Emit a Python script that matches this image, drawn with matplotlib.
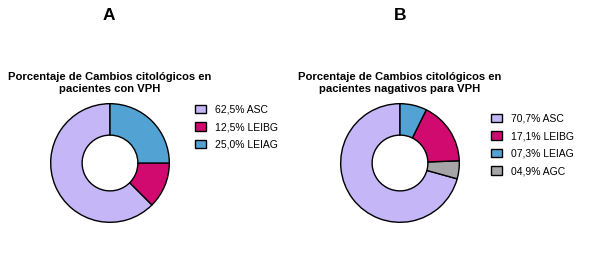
import matplotlib
matplotlib.use("Agg")
import matplotlib.pyplot as plt
from matplotlib.patches import Patch

plt.rcParams['font.family'] = ['Liberation Sans', 'DejaVu Sans']

# Data
cats_a = ["ASC", "LEIBG", "LEIAG"]
vals_a = [62.5, 12.5, 25.0]
labels_a = ["62,5% ASC", "12,5% LEIBG", "25,0% LEIAG"]

# wedge order of panel B (counter-clockwise from top)
cats_b_wedges = ["ASC", "AGC", "LEIBG", "LEIAG"]
vals_b_wedges = [70.7, 4.9, 17.1, 7.3]
# legend order of panel B
cats_b_legend = ["ASC", "LEIBG", "LEIAG", "AGC"]
labels_b = ["70,7% ASC", "17,1% LEIBG", "07,3% LEIAG", "04,9% AGC"]

title_a = "Porcentaje de Cambios citológicos en\npacientes con VPH"
title_b = "Porcentaje de Cambios citológicos en\npacientes nagativos para VPH"

colors = {"ASC": "#C5B6F8", "LEIBG": "#D10A70", "LEIAG": "#52A3D4", "AGC": "#A5A5A7"}

W, H = 591, 254
fig = plt.figure(figsize=(W / 100, H / 100), dpi=100)

def px_axes(cx, cy, r):
    return fig.add_axes([(cx - r) / W, 1 - (cy + r) / H, 2 * r / W, 2 * r / H])

def donut(cx, cy, cats, vals):
    ax = px_axes(cx, cy, 60.5)
    ax.pie(vals, colors=[colors[c] for c in cats], startangle=90, counterclock=True,
           radius=1, wedgeprops=dict(width=0.53, edgecolor="black", linewidth=1.0))
    ax.set_xlim(-1.02, 1.02)
    ax.set_ylim(-1.02, 1.02)
    ax.set_aspect("equal")
    ax.axis("off")
    return ax

donut(110, 163, cats_a, vals_a)
donut(400, 163, cats_b_wedges, vals_b_wedges)

fig.text(109 / W, 1 - 16 / H, "A", ha="center", va="center", fontsize=12.5, fontweight="bold")
fig.text(400 / W, 1 - 16 / H, "B", ha="center", va="center", fontsize=12.5, fontweight="bold")

fig.text(110 / W, 1 - 83 / H, title_a, ha="center", va="center", fontsize=8.1,
         fontweight="bold", linespacing=1.3)
fig.text(400 / W, 1 - 83 / H, title_b, ha="center", va="center", fontsize=8.1,
         fontweight="bold", linespacing=1.3)

def legend(cats, labels, x, y):
    handles = [Patch(facecolor=colors[c], edgecolor="black", linewidth=1.0) for c in cats]
    fig.legend(handles, labels, loc="center left", bbox_to_anchor=(x / W, 1 - y / H),
               frameon=False, fontsize=7.5, handlelength=1.05, handleheight=0.85,
               handletextpad=0.9, labelspacing=0.72, borderpad=0, borderaxespad=0)

legend(cats_a, labels_a, 195, 127)
legend(cats_b_legend, labels_b, 491, 145)

fig.savefig("out.png", dpi=100, facecolor="white")
